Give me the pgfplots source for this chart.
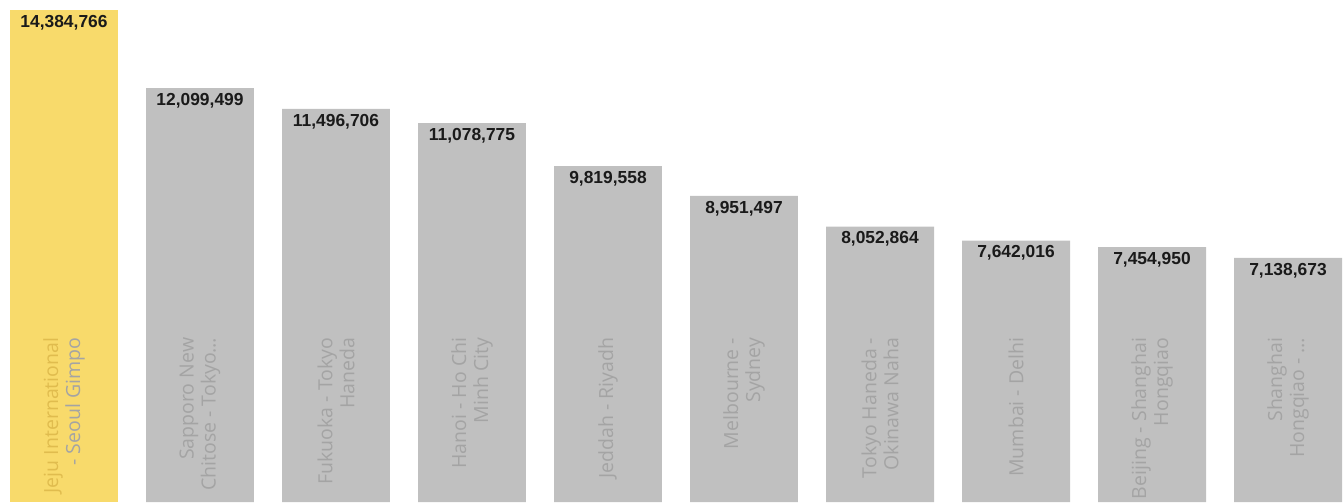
\documentclass[border=0pt]{standalone}
\usepackage{pgfplots}
\pgfplotsset{compat=1.18}
\usepackage{fontspec}
\setmainfont{Open Sans}
\newfontfamily\valfont{Liberation Sans}
\definecolor{baryellow}{HTML}{F8DA6B}
\definecolor{bargray}{HTML}{C0C0C0}
\definecolor{labgray}{HTML}{A4A4A4}
\definecolor{labgold}{HTML}{E0BC4E}
\definecolor{valtext}{HTML}{1A1A1A}

\pgfplotstableread{
x y lab
0 14384766 14,384,766
}\first
\pgfplotstableread{
x y lab
1 12099499 12,099,499
2 11496706 11,496,706
3 11078775 11,078,775
4 9819558 9,819,558
5 8951497 8,951,497
6 8052864 8,052,864
7 7642016 7,642,016
8 7454950 7,454,950
9 7138673 7,138,673
}\rest

\begin{document}
\begin{tikzpicture}
\begin{axis}[
    width=1344bp, height=502bp, scale only axis,
    axis on top,
    xmin=-0.4706, xmax=9.4118,
    ymin=0, ymax=14677137,
    axis line style={draw=none},
    tick style={draw=none},
    ytick=\empty,
    xtick={0,1,2,3,4,5,6,7,8,9},
    xticklabels={
        {\color{labgold}Jeju International\\- Seoul Gimpo},
        {Sapporo New\\Chitose - Tokyo\ldots},
        {Fukuoka - Tokyo\\Haneda},
        {Hanoi - Ho Chi\\Minh City},
        {Jeddah - Riyadh},
        {Melbourne -\\Sydney},
        {Tokyo Haneda -\\Okinawa Naha},
        {Mumbai - Delhi},
        {Beijing - Shanghai\\Hongqiao},
        {Shanghai\\Hongqiao - \ldots}},
    xticklabel style={rotate=90, anchor=east, align=right, text=labgray,
        font=\fontsize{19.5bp}{22bp}\selectfont},
    xticklabel shift=-172bp,
    ybar,
    bar width=0.794,
    nodes near coords,
    point meta=explicit symbolic,
    nodes near coords style={anchor=north, text=valtext, inner sep=5bp,
        font=\valfont\bfseries\fontsize{17.4bp}{19bp}\selectfont},
]
\addplot[bar shift=0pt, fill=baryellow, draw=none] table[meta=lab]{\first};
\addplot[bar shift=0pt, fill=bargray, draw=none] table[meta=lab]{\rest};
\end{axis}
\pgfresetboundingbox
\useasboundingbox (current axis.south west) rectangle (current axis.north east);
\end{tikzpicture}
\end{document}
